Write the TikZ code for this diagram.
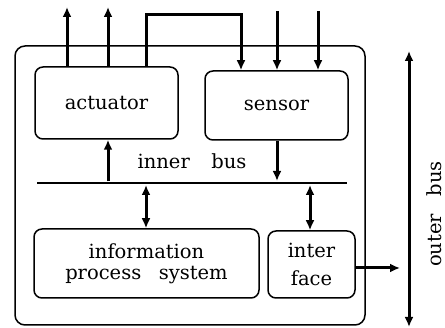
\documentclass[tikz,border=0pt]{standalone}
\usepackage{fontspec}
\setmainfont{DejaVu Serif}
\usetikzlibrary{arrows.meta}

\begin{document}
\begin{tikzpicture}[
        x=1pt,y=-1pt,
        every node/.style={font=\fontsize{19.5}{23}\selectfont},
        unit/.style={draw,line width=1.5pt,rounded corners=8pt,inner sep=0pt,align=center},
        sig/.style={line width=3pt,-{Latex[length=10pt,width=9pt]}},
        dsig/.style={line width=3pt,{Latex[length=10pt,width=9pt]}-{Latex[length=10pt,width=9pt]}}
    ]
    \useasboundingbox (0,0) rectangle (445,328);
    % frame and units
    \node[unit,rounded corners=10pt,minimum width=350pt,minimum height=279pt] (frame) at (190,185.5) {};
    \node[unit,minimum width=143pt,minimum height=72pt] (act) at (106.5,103) {actuator};
    \node[unit,minimum width=143pt,minimum height=69pt] (sen) at (276.5,105.5) {sensor};
    \node[unit,minimum width=225pt,minimum height=69pt] (info) at (146.5,263.5) {information\\[-2pt]process\hspace{0.9em}system};
    \node[unit,minimum width=87pt,minimum height=67pt] (intf) at (311.5,264.5) {inter\\[5pt]face};
    % inner bus
    \coordinate (busL) at (37,183);
    \coordinate (busR) at (347,183);
    \draw[line width=2.6pt] (busL) -- (busR);
    \node (ibus) at (192,161) {inner\hspace{1.1em}bus};
    \coordinate (ua) at (108,183);
    \coordinate (ds) at (277,183);
    \draw[sig,shorten <=1.5pt] (ua) -- (ua |- act.south);
    \draw[sig,shorten >=2pt] (sen.south -| ds) -- (ds);
    \coordinate (d1) at (146,183);
    \coordinate (d2) at (310,183);
    \draw[dsig,shorten <=2pt] (d1) -- (d1 |- info.north);
    \draw[dsig,shorten <=2pt] (d2) -- (d2 |- intf.north);
    % outside lines
    \coordinate (o1) at (67,7);
    \coordinate (o2) at (108,7);
    \draw[sig] (o1 |- act.north) -- (o1);
    \draw[sig] (o2 |- act.north) -- (o2);
    \coordinate (lpA) at (146,15);
    \coordinate (lpB) at (241,15);
    \draw[sig] (act.north -| lpA) -- (lpA) -- (lpB) -- (lpB |- sen.north);
    \coordinate (i1) at (277,11);
    \coordinate (i2) at (318,11);
    \draw[sig] (i1) -- (i1 |- sen.north);
    \draw[sig] (i2) -- (i2 |- sen.north);
    % outer bus
    \coordinate (obT) at (409,51);
    \coordinate (obB) at (409,327);
    \coordinate (out) at (400,268);
    \draw[dsig] (obB) -- (obT);
    \draw[sig] (intf.east |- out) -- (out);
    \node[rotate=90] (obus) at (434,214) {outer\hspace{0.9em}bus};
\end{tikzpicture}
\end{document}
